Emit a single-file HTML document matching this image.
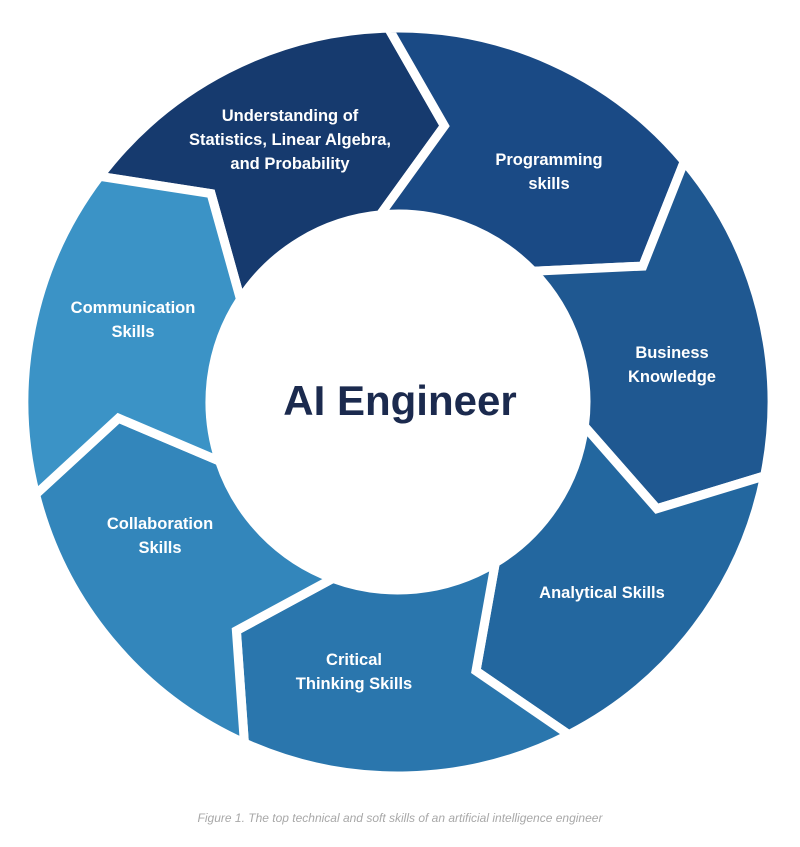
<!DOCTYPE html>
<html><head><meta charset="utf-8"><style>
html,body{margin:0;padding:0;background:#fff;width:800px;height:847px;overflow:hidden}
svg{display:block}
.l{font-family:"Liberation Sans",sans-serif;font-weight:bold;font-size:16.5px;fill:#fff;text-anchor:middle}
</style></head><body>
<svg id="s" width="800" height="847" viewBox="0 0 800 847">
<g id="g"></g>
<text x="400" y="415" font-family="Liberation Sans, sans-serif" font-weight="bold" font-size="42" fill="#1b2a4e" text-anchor="middle">AI Engineer</text>
<text class="l" x="290" y="121">Understanding of</text>
<text class="l" x="290" y="145">Statistics, Linear Algebra,</text>
<text class="l" x="290" y="169">and Probability</text>
<text class="l" x="549" y="165">Programming</text>
<text class="l" x="549" y="189">skills</text>
<text class="l" x="672" y="358">Business</text>
<text class="l" x="672" y="382">Knowledge</text>
<text class="l" x="602" y="598">Analytical Skills</text>
<text class="l" x="354" y="665">Critical</text>
<text class="l" x="354" y="689">Thinking Skills</text>
<text class="l" x="160" y="529">Collaboration</text>
<text class="l" x="160" y="553">Skills</text>
<text class="l" x="133" y="313">Communication</text>
<text class="l" x="133" y="337">Skills</text>
<text x="400" y="822" font-family="Liberation Sans, sans-serif" font-style="italic" font-size="12" fill="#a8a8a8" text-anchor="middle">Figure 1. The top technical and soft skills of an artificial intelligence engineer</text>
</svg>
<script>
var cx=398,cy=402,R=374,r=188,m=280;
var cols=["#163a6e","#1a4a85","#1f5891","#23679f","#2a76ad","#3386bb","#3b93c6"];
function p(a,rad){var t=a*Math.PI/180;return (cx+rad*Math.sin(t)).toFixed(1)+","+(cy-rad*Math.cos(t)).toFixed(1);}
var g=document.getElementById("g"),h="";
var start=-52.9;
for(var k=0;k<7;k++){
 var a=start+51.43*k,b=a+51.43;
 var d="M"+p(a,R)+" A"+R+","+R+" 0 0 1 "+p(b,R)+" L"+p(b+11,m)+" L"+p(b-4,r)+" A"+r+","+r+" 0 0 0 "+p(a-4,r)+" L"+p(a+11,m)+" Z";
 h+='<path d="'+d+'" fill="'+cols[k]+'" stroke="#fff" stroke-width="9" stroke-linejoin="miter"/>';
}
g.innerHTML=h;
</script>
</body></html>
